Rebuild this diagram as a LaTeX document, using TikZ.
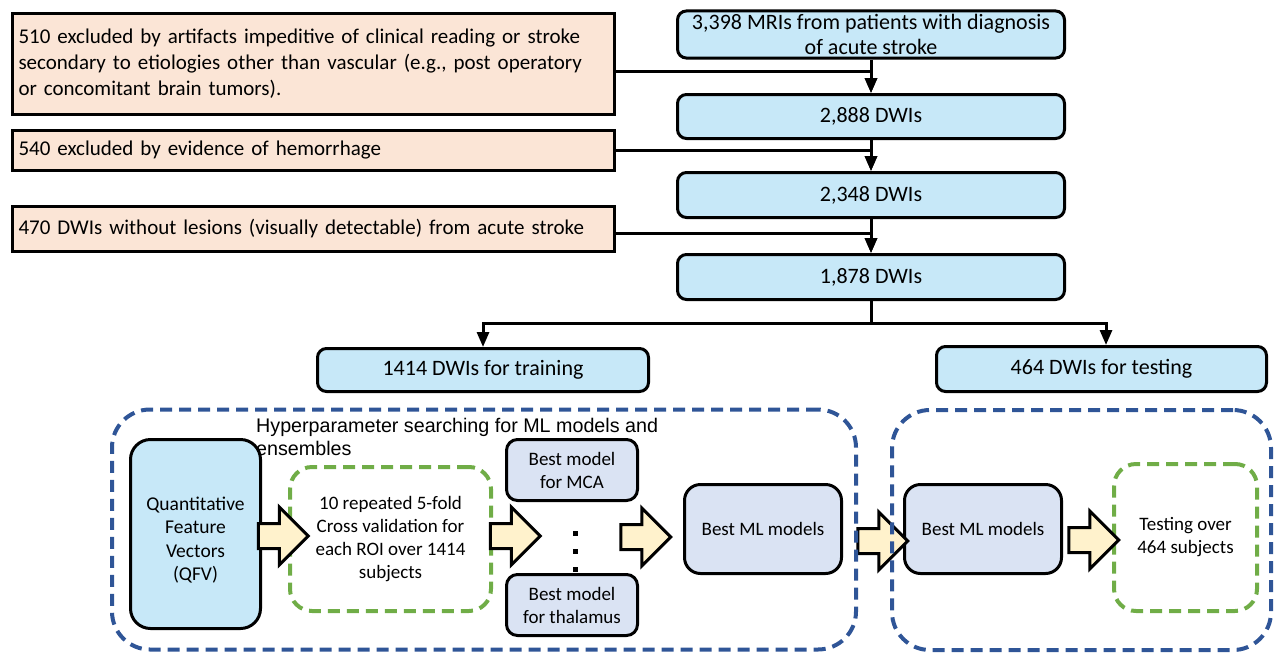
\documentclass[tikz,border=0pt]{standalone}
\usepackage{fontspec}
\setmainfont{Carlito}
\newfontfamily\arialfont{Liberation Sans}
\usetikzlibrary{arrows.meta,shapes.arrows}
\pgfdeclarelayer{edgelayer}
\pgfdeclarelayer{nodelayer}
\pgfsetlayers{edgelayer,nodelayer,main}
\definecolor{salmon}{HTML}{FBE5D6}
\definecolor{skyfill}{HTML}{C7E8F8}
\definecolor{lavender}{HTML}{DAE3F3}
\definecolor{frameblue}{HTML}{2F5597}
\definecolor{framegreen}{HTML}{70AD47}
\definecolor{arrowfill}{HTML}{FFF2CC}
\tikzstyle{excl}=[rectangle, fill=salmon, draw=black, line width=3pt, align=left, inner sep=6pt, font=\fontsize{21}{26}\selectfont]
\tikzstyle{count}=[rectangle, rounded corners=9pt, fill=skyfill, draw=black, line width=3pt, align=center, font=\fontsize{22}{25}\selectfont]
\tikzstyle{model}=[count, fill=lavender, rounded corners=16pt, font=\fontsize{19}{23}\selectfont]
\tikzstyle{dashbox}=[rectangle, rounded corners=22pt, draw=framegreen, line width=4pt, dash pattern=on 12pt off 7pt, align=center, font=\fontsize{19}{23}\selectfont]
\tikzstyle{frame}=[rectangle, rounded corners=38pt, draw=frameblue, line width=4pt, dash pattern=on 12pt off 7pt]
\tikzstyle{flow}=[draw=black, line width=3pt, -{Triangle[width=12pt,length=15pt]}]
\tikzstyle{bigarrow}=[single arrow, fill=arrowfill, draw=black, line width=3pt, inner sep=0pt, text height=11pt, text depth=11pt, minimum height=50pt, single arrow head extend=16.5pt]

\begin{document}
\begin{tikzpicture}[x=1pt, y=-1pt]
\useasboundingbox (0,0) rectangle (1276,656);
	\begin{pgfonlayer}{nodelayer}
		\node [style=excl, text width=590pt, minimum height=101pt] (ex1) at (313.5, 64) {510 excluded by artifacts impeditive of clinical reading or stroke\\secondary to etiologies other than vascular (e.g., post operatory\\or concomitant brain tumors).};
		\node [style=excl, text width=590pt, minimum height=40pt] (ex2) at (313.5, 150.5) {540 excluded by evidence of hemorrhage};
		\node [style=excl, text width=590pt, minimum height=45pt] (ex3) at (313.5, 229) {470 DWIs without lesions (visually detectable) from acute stroke};
		\node [style=count, minimum width=387pt, minimum height=46pt] (mri) at (871, 34.5) {3,398 MRIs from patients with diagnosis\\of acute stroke};
		\node [style=count, minimum width=387pt, minimum height=44pt] (d2888) at (871, 116.5) {2,888 DWIs};
		\node [style=count, minimum width=387pt, minimum height=45pt] (d2348) at (871, 195) {2,348 DWIs};
		\node [style=count, minimum width=387pt, minimum height=45pt] (d1878) at (871, 277) {1,878 DWIs};
		\node [style=count, minimum width=331pt, minimum height=43pt] (train) at (483, 370) {1414 DWIs for training};
		\node [style=count, minimum width=330pt, minimum height=45pt] (test) at (1101.5, 369) {464 DWIs for testing};
		\node [anchor=north west, align=left, inner sep=0pt, font=\arialfont\fontsize{19.7}{23}\selectfont] (hyperlabel) at (256, 418) {Hyperparameter searching for ML models and\\ensembles};
		\node [style=count, rounded corners=20pt, minimum width=130pt, minimum height=189pt, font=\fontsize{19.5}{23.5}\selectfont] (qfv) at (195.5, 534) {\rule{0pt}{26pt}Quantitative\\Feature\\Vectors\\(QFV)};
		\node [style=dashbox, minimum width=201pt, minimum height=144pt] (cv) at (390.5, 539) {10 repeated 5-fold\\Cross validation for\\each ROI over 1414\\subjects};
		\node [style=model, rounded corners=11pt, minimum width=131pt, minimum height=61pt] (mca) at (572, 470) {Best model\\for MCA};
		\node [style=model, rounded corners=11pt, minimum width=131pt, minimum height=61pt] (thal) at (572, 605) {Best model\\for thalamus};
		\node [style=model, minimum width=157pt, minimum height=89pt] (bestl) at (763, 529) {Best ML models};
		\node [style=model, minimum width=157pt, minimum height=89pt] (bestr) at (983, 529) {Best ML models};
		\node [style=dashbox, minimum width=143pt, minimum height=147pt] (testing) at (1185.5, 537.5) {Testing over\\464 subjects};
		\node [style=bigarrow] (arr1) at (277, 536) {};
		\node [style=bigarrow] (arr2) at (509, 536) {};
		\node [style=bigarrow] (arr3) at (639.5, 537) {};
		\node [style=bigarrow] (arr4) at (876.5, 541) {};
		\node [style=bigarrow] (arr5) at (1087.5, 540) {};
		\foreach \y in {533, 551, 569}
			\fill (572.5, \y-2.5) rectangle ++(5, 5);
	\end{pgfonlayer}
	\begin{pgfonlayer}{edgelayer}
		\draw [style=flow] (mri) -- (d2888);
		\draw [style=flow] ([yshift=-7pt]ex1.east) -| (d2888.north);
		\draw [style=flow] (d2888) -- (d2348);
		\draw [style=flow] (ex2.east) -| (d2348.north);
		\draw [style=flow] (d2348) -- (d1878);
		\draw [style=flow] ([yshift=-4pt]ex3.east) -| (d1878.north);
		\draw [style=flow] (d1878.south) -- ++(0, 22) -| (train.north);
		\draw [style=flow] (d1878.south) -- ++(0, 22) -| ([xshift=4.5pt]test.north);
	\end{pgfonlayer}
	\node [style=frame, minimum width=744pt, minimum height=240pt] (hyper) at (484, 529.5) {};
	\node [style=frame, minimum width=379pt, minimum height=240pt] (testframe) at (1081.5, 530) {};
\end{tikzpicture}
\end{document}
